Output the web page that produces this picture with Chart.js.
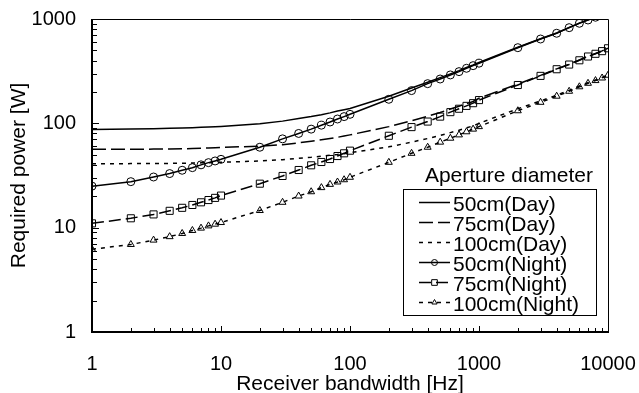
<!DOCTYPE html>
<html>
<head>
<meta charset="utf-8">
<title>Required power vs receiver bandwidth</title>
<script src="https://cdn.jsdelivr.net/npm/chart.js@4.4.1/dist/chart.umd.min.js"></script>
<style>
  html, body { margin: 0; padding: 0; background: #fff; }
  #chart-wrap { width: 639px; height: 393px; }
</style>
</head>
<body>
<div id="chart-wrap"><canvas id="power-chart" width="639" height="393"></canvas></div>
<script>
// Receiver bandwidth [Hz] of every sample
const bandwidth = [1, 2, 3, 4, 5, 6, 7, 8, 9, 10, 20, 30, 40, 50, 60, 70, 80, 90, 100,
  200, 300, 400, 500, 600, 700, 800, 900, 1000, 2000, 3000, 4000, 5000, 6000, 7000, 8000, 9000, 10000];

// Required power [W]
const day50 = [87.5, 88.2, 88.8, 89.5, 90.2, 90.8, 91.5, 92.1, 92.8, 93.5, 99, 105, 111, 116, 121, 126, 131, 135, 139,
  182, 218, 248, 274, 298, 320, 343, 362, 383, 536, 647, 734, 829, 913, 981, 1043, 1102, 1162];
const day75 = [56.4, 56.5, 56.6, 56.8, 57, 57.3, 57.6, 58, 58.3, 58.7, 60.5, 62.5, 65, 67.5, 69.5, 71.5, 73.5, 75.5, 77.5,
  93, 106, 117, 127, 137, 146, 154, 162, 174, 238, 288, 333, 369, 405, 440, 467, 495, 527];
const day100 = [41, 41.1, 41.2, 41.3, 41.5, 41.6, 41.8, 42, 42.1, 42.3, 43.6, 44.8, 46.3, 47.3, 48.5, 49.5, 50.3, 51.2, 52.3,
  59.5, 66, 71.5, 76.5, 81.5, 86, 90.5, 94.5, 100, 138, 164, 186, 207, 228, 245, 260, 275, 292];
const night50 = [25, 27.6, 30.6, 33, 35.5, 37.6, 40, 42, 43.6, 45.2, 59, 71, 80, 88, 96, 103, 110, 116, 122,
  170, 206, 240, 266, 291, 313, 337, 357, 377, 531, 643, 730, 826, 910, 978, 1040, 1100, 1160];
const night75 = [11.0, 12.3, 13.4, 14.5, 15.5, 16.5, 17.5, 18.4, 19.3, 20.3, 26.4, 31.3, 35.7, 39.6, 42.6, 45.5, 48.6, 51.6, 54.7,
  76, 92, 104, 116, 128, 138, 147, 156, 167, 233, 285, 330, 366, 402, 437, 464, 492, 524];
const night100 = [6.2, 6.9, 7.6, 8.2, 8.8, 9.4, 9.9, 10.4, 10.8, 11.2, 14.6, 17.5, 20.1, 22.1, 24.2, 26, 27.4, 28.8, 30.4,
  42.3, 51.6, 59, 66, 72, 77.5, 83, 88, 93, 132, 159, 182, 203, 224, 242, 257, 272, 289];

const seriesLabels = ['50cm(Day)', '75cm(Day)', '100cm(Day)', '50cm(Night)', '75cm(Night)', '100cm(Night)'];
const xTickLabels = [1, 10, 100, 1000, 10000];
const yTickLabels = [1, 10, 100, 1000];
const legendTitle = 'Aperture diameter';

const FONT = "'Liberation Sans', Arial, sans-serif";
const NONE = 'rgba(0,0,0,0)';

function toPoints(values) {
  return bandwidth.map((b, i) => ({ x: b, y: values[i] }));
}

// 1, 2, ... 9, 10, 20, ... so the minor tick marks come from the scale too
function decadeTicks(labels) {
  const ticks = [];
  for (let i = 0; i < labels.length - 1; i++) {
    for (let k = 1; k <= 9; k++) ticks.push({ value: labels[i] * k });
  }
  ticks.push({ value: labels[labels.length - 1] });
  return ticks;
}

function series(label, values, dash, pointStyle, radius) {
  return {
    label: label,
    data: toPoints(values),
    borderColor: '#000',
    borderWidth: 1.5,
    borderDash: dash,
    backgroundColor: NONE,
    fill: false,
    tension: 0,
    pointStyle: pointStyle || 'circle',
    pointRadius: radius || 0,
    pointBorderWidth: 1,
    pointBorderColor: '#000',
    pointBackgroundColor: NONE
  };
}

/**
 * Box around the plot with inward tick marks
 */
const axisFrame = {
  id: 'axisFrame',
  afterDatasetsDraw(chart) {
    const { ctx, chartArea: { left, right, top, bottom } } = chart;
    const xScale = chart.scales.x;
    const yScale = chart.scales.y;
    ctx.save();
    ctx.strokeStyle = '#000';
    ctx.setLineDash([]);

    ctx.lineWidth = 1;
    ctx.beginPath();
    ctx.moveTo(left, top + 0.5);
    ctx.lineTo(right + 0.5, top + 0.5);
    ctx.lineTo(right + 0.5, bottom);
    ctx.stroke();

    ctx.lineWidth = 2;
    ctx.beginPath();
    ctx.moveTo(left, top);
    ctx.lineTo(left, bottom);
    ctx.lineTo(right + 1, bottom);
    ctx.stroke();

    ctx.lineWidth = 1;
    yScale.ticks.forEach(t => {
      const y = Math.round(yScale.getPixelForValue(t.value)) + 0.5;
      const len = yTickLabels.includes(t.value) ? 7 : 5;
      ctx.beginPath();
      ctx.moveTo(left, y);
      ctx.lineTo(left + len, y);
      ctx.stroke();
    });
    xScale.ticks.forEach(t => {
      const x = Math.round(xScale.getPixelForValue(t.value)) + 0.5;
      const len = xTickLabels.includes(t.value) ? 6 : 4;
      ctx.beginPath();
      ctx.moveTo(x, bottom);
      ctx.lineTo(x, bottom - len);
      ctx.stroke();
    });
    ctx.restore();
  }
};

/**
 * Boxed legend inside the plot, with its title above the box
 */
const apertureLegend = {
  id: 'apertureLegend',
  afterDraw(chart) {
    const { ctx, chartArea } = chart;
    const box = {
      left: chartArea.right - 205,
      right: chartArea.right - 12,
      top: chartArea.bottom - 143,
      bottom: chartArea.bottom - 17
    };
    const rowHeight = 20;

    ctx.save();
    ctx.fillStyle = '#000';
    ctx.font = '21px ' + FONT;
    ctx.textBaseline = 'middle';
    ctx.textAlign = 'right';
    ctx.fillText(legendTitle, box.right - 3, box.top - 13);

    ctx.fillStyle = '#fff';
    ctx.fillRect(box.left, box.top, box.right - box.left, box.bottom - box.top);
    ctx.strokeStyle = '#000';
    ctx.lineWidth = 1;
    ctx.setLineDash([]);
    ctx.strokeRect(box.left + 0.5, box.top + 0.5, box.right - box.left, box.bottom - box.top);

    ctx.textAlign = 'left';
    chart.data.datasets.forEach((ds, i) => {
      const cy = box.top + 16 + i * rowHeight;
      const ly = Math.round(cy - 3) + 0.5;
      const x0 = box.left + 16;
      const x1 = box.left + 47;

      ctx.strokeStyle = '#000';
      ctx.lineWidth = ds.borderWidth;
      ctx.setLineDash(ds.borderDash || []);
      ctx.beginPath();
      ctx.moveTo(x0, ly);
      ctx.lineTo(x1, ly);
      ctx.stroke();

      if (ds.pointRadius > 0) {
        ctx.setLineDash([]);
        ctx.fillStyle = NONE;
        ctx.lineWidth = 1;
        Chart.helpers.drawPoint(ctx, {
          pointStyle: ds.pointStyle,
          radius: ds.pointRadius - 1,
          borderWidth: 1,
          rotation: 0
        }, (x0 + x1) / 2, ly);
      }

      ctx.fillStyle = '#000';
      ctx.fillText(ds.label, box.left + 50, cy);
    });
    ctx.restore();
  }
};

Chart.defaults.color = '#000';
Chart.defaults.font.family = FONT;

const ctx = document.getElementById('power-chart').getContext('2d');
const chart = new Chart(ctx, {
  type: 'line',
  data: {
    datasets: [
      series(seriesLabels[0], day50, []),
      series(seriesLabels[1], day75, [14, 5]),
      series(seriesLabels[2], day100, [4, 5]),
      series(seriesLabels[3], night50, [], 'circle', 4),
      series(seriesLabels[4], night75, [12, 5], 'rect', 5),
      series(seriesLabels[5], night100, [4, 5], 'triangle', 4)
    ]
  },
  options: {
    responsive: false,
    devicePixelRatio: 1,
    animation: false,
    events: [],
    layout: {
      padding: { top: 19, right: 31, left: 0, bottom: 0 }
    },
    plugins: {
      legend: { display: false },
      tooltip: { enabled: false }
    },
    scales: {
      x: {
        type: 'logarithmic',
        min: 1,
        max: 10000,
        afterBuildTicks: scale => { scale.ticks = decadeTicks(xTickLabels); },
        afterFit: scale => {
          scale.height = 61;
          // edge labels fit inside the layout padding already
          scale.paddingLeft = 0;
          scale.paddingRight = 0;
        },
        grid: { display: false, drawTicks: false },
        border: { display: false },
        ticks: {
          autoSkip: false,
          maxRotation: 0,
          padding: 20,
          font: { size: 20 },
          callback: value => xTickLabels.includes(value) ? String(value) : ''
        },
        title: {
          display: true,
          text: 'Receiver bandwidth [Hz]',
          font: { size: 21, lineHeight: 1 },
          padding: { top: 0, bottom: -1.5 }
        }
      },
      y: {
        type: 'logarithmic',
        min: 1,
        max: 1000,
        afterBuildTicks: scale => { scale.ticks = decadeTicks(yTickLabels); },
        afterFit: scale => {
          scale.width = 92;
          scale.paddingTop = 0;
          scale.paddingBottom = 0;
        },
        grid: { display: false, drawTicks: false },
        border: { display: false },
        ticks: {
          autoSkip: false,
          padding: 16,
          font: { size: 20 },
          callback: value => yTickLabels.includes(value) ? String(value) : ''
        },
        title: {
          display: true,
          text: 'Required power [W]',
          font: { size: 21, lineHeight: 1 },
          padding: { top: 9, bottom: 0 }
        }
      }
    }
  },
  plugins: [axisFrame, apertureLegend]
});
</script>
</body>
</html>
